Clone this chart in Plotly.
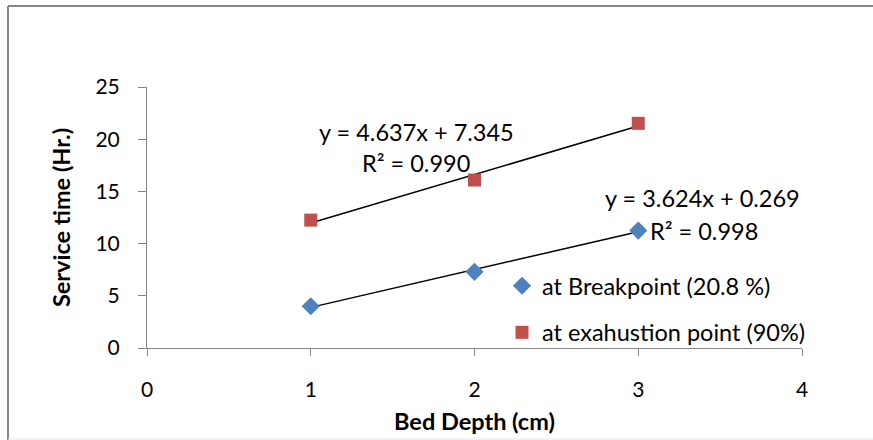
import plotly.graph_objects as go

# Bed depth (cm) and service times (Hr.)
bed_depth = [1, 2, 3]
breakpoint_time = [4.0, 7.3, 11.25]
exhaustion_time = [12.25, 16.09, 21.52]

# Linear trend coefficients (slope, intercept, R²)
bp_slope, bp_intercept, bp_r2 = 3.624, 0.269, 0.998
ex_slope, ex_intercept, ex_r2 = 4.637, 7.345, 0.990

x_ticks = [0, 1, 2, 3, 4]
y_ticks = [0, 5, 10, 15, 20, 25]

FONT = "Lato"
TXT = 23.5
TICK = 21
BLUE = "#4F81BD"
RED = "#C0504D"
AXIS = "#868686"

fig = go.Figure()

# Trendlines across the measured depth range
x_lo, x_hi = min(bed_depth), max(bed_depth)
for slope, intercept in [(bp_slope, bp_intercept), (ex_slope, ex_intercept)]:
    fig.add_trace(go.Scatter(
        x=[x_lo, x_hi],
        y=[slope * x_lo + intercept, slope * x_hi + intercept],
        mode="lines", line=dict(color="black", width=1.5),
        showlegend=False, hoverinfo="skip",
    ))

fig.add_trace(go.Scatter(
    x=bed_depth, y=breakpoint_time, mode="markers",
    name="at Breakpoint (20.8 %)", legendgroup="bp",
    marker=dict(symbol="diamond", size=14, color=BLUE),
))
fig.add_trace(go.Scatter(
    x=bed_depth, y=exhaustion_time, mode="markers",
    name="at exahustion point (90%)", legendgroup="ex",
    marker=dict(symbol="square", size=13, color=RED),
))

eq_font = dict(family=FONT, size=TXT, color="black")
labels = [
    (1.643, 20.69, f"y = {ex_slope:.3f}x + {ex_intercept:.3f}"),
    (1.643, 17.72, f"R² = {ex_r2:.3f}"),
    (3.395, 14.37, f"y = {bp_slope:.3f}x + {bp_intercept:.3f}"),
    (3.40, 11.21, f"R² = {bp_r2:.3f}"),
]
for lx, ly, txt in labels:
    fig.add_annotation(x=lx, y=ly, text=txt, showarrow=False,
                       font=eq_font, xanchor="center", yanchor="middle")

W, H = 873, 440
ml, mr, mt, mb = 147, 71, 87, 92
pw, ph = W - ml - mr, H - mt - mb


def px_x(p):
    return (p - ml) / pw


def px_y(p):
    return (H - mb - p) / ph


# Chart frame: top and left rules, faint bottom rule
frame = [
    (px_x(8), px_y(6), px_x(W + 5), px_y(6), AXIS, 2),
    (px_x(8), px_y(6), px_x(8), px_y(H + 5), AXIS, 2),
    (px_x(8), px_y(439), px_x(W + 5), px_y(439), "#E6E6E6", 1),
]
for x0, y0, x1, y1, c, w in frame:
    fig.add_shape(type="line", xref="paper", yref="paper",
                  x0=x0, y0=y0, x1=x1, y1=y1, line=dict(color=c, width=w))

fig.update_layout(
    width=W, height=H,
    margin=dict(l=ml, r=mr, t=mt, b=mb, autoexpand=False),
    paper_bgcolor="white", plot_bgcolor="white",
    font=dict(family=FONT, size=TXT, color="black"),
    showlegend=True,
    legend=dict(
        x=px_x(502), y=px_y(264), xanchor="left", yanchor="top",
        bgcolor="rgba(0,0,0,0)", tracegroupgap=13,
        font=dict(family=FONT, size=TXT, color="black"),
        itemwidth=30,
    ),
    xaxis=dict(
        range=[0, 4], tickvals=x_ticks, showgrid=False, zeroline=False,
        showline=True, linecolor=AXIS, linewidth=1, automargin=False,
        ticks="outside", ticklen=7, tickcolor=AXIS,
        ticklabelstandoff=16, tickfont=dict(family=FONT, size=TICK),
        title=dict(text="<b>Bed Depth (cm)</b>", standoff=13,
                   font=dict(family=FONT, size=TXT)),
    ),
    yaxis=dict(
        range=[0, 25], tickvals=y_ticks, showgrid=False, zeroline=False,
        showline=True, linecolor=AXIS, linewidth=1, automargin=False,
        ticks="outside", ticklen=8, tickcolor=AXIS,
        ticklabelstandoff=14, tickfont=dict(family=FONT, size=TICK),
        title=dict(text="<b>Service time (Hr.)</b>", standoff=18,
                   font=dict(family=FONT, size=TXT)),
    ),
)

fig.write_html("out.html")
